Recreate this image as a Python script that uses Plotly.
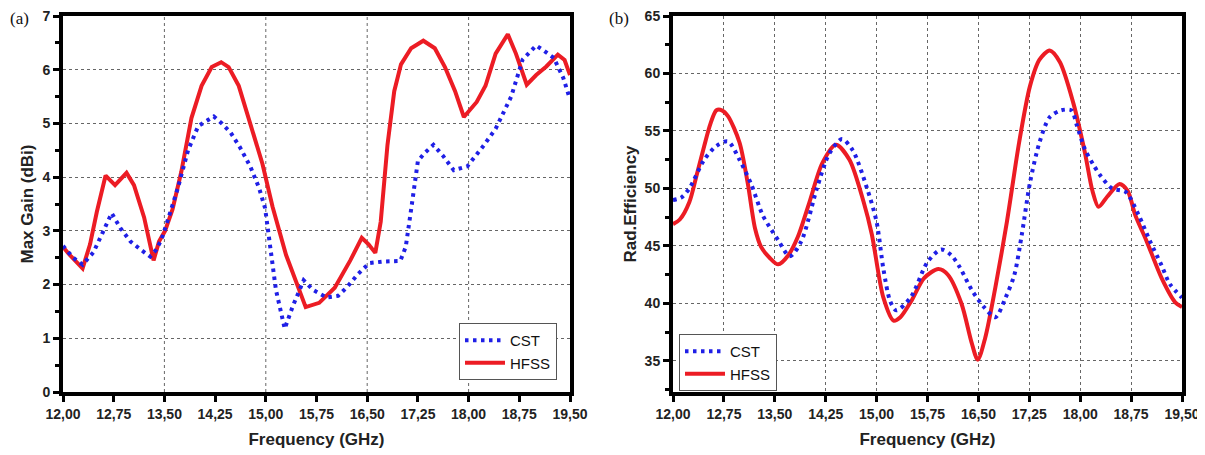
import plotly.graph_objects as go

# ---------------- data ----------------
# (a) Max Gain (dBi)
gain_cst_f = [12.00, 12.15, 12.29, 12.45, 12.58, 12.72, 12.85, 13.00, 13.15, 13.29, 13.38, 13.46,
              13.55, 13.70, 13.85, 14.00, 14.23, 14.35, 14.48, 14.62, 14.77, 14.90, 14.99, 15.06,
              15.15, 15.28, 15.40, 15.56, 15.70, 15.90, 16.07, 16.20, 16.36, 16.53, 16.75, 16.99,
              17.07, 17.15, 17.25, 17.35, 17.48, 17.62, 17.78, 17.98, 18.20, 18.40, 18.63, 18.80,
              19.00, 19.12, 19.26, 19.40, 19.50]
gain_cst = [2.72, 2.50, 2.37, 2.60, 2.95, 3.33, 3.05, 2.80, 2.65, 2.52, 2.65, 2.85,
            3.20, 3.80, 4.50, 4.95, 5.13, 5.00, 4.83, 4.55, 4.20, 3.80, 3.42, 2.80,
            1.90, 1.18, 1.60, 2.08, 1.90, 1.76, 1.79, 1.95, 2.19, 2.40, 2.43, 2.44,
            2.70, 3.40, 4.30, 4.45, 4.60, 4.40, 4.13, 4.20, 4.55, 4.90, 5.50, 6.19,
            6.45, 6.35, 6.22, 5.85, 5.45]

gain_hfss_f = [12.00, 12.10, 12.29, 12.40, 12.50, 12.63, 12.77, 12.94, 13.05, 13.20, 13.34, 13.42,
               13.51, 13.62, 13.75, 13.90, 14.05, 14.20, 14.34, 14.45, 14.60, 14.80, 14.95, 15.10,
               15.30, 15.59, 15.79, 16.02, 16.25, 16.42, 16.52, 16.62, 16.70, 16.80, 16.90, 17.00,
               17.15, 17.33, 17.50, 17.65, 17.80, 17.93, 18.05, 18.12, 18.25, 18.40, 18.58, 18.70,
               18.86, 19.00, 19.15, 19.32, 19.42, 19.50]
gain_hfss = [2.70, 2.55, 2.30, 2.75, 3.35, 4.03, 3.85, 4.08, 3.85, 3.25, 2.45, 2.80,
             3.00, 3.40, 4.10, 5.10, 5.70, 6.05, 6.14, 6.05, 5.70, 4.90, 4.25, 3.45,
             2.55, 1.58, 1.66, 1.94, 2.45, 2.87, 2.75, 2.59, 3.17, 4.60, 5.60, 6.10,
             6.40, 6.54, 6.40, 6.05, 5.60, 5.12, 5.30, 5.40, 5.70, 6.30, 6.66, 6.30,
             5.72, 5.90, 6.06, 6.28, 6.18, 5.90]

# (b) Radiation efficiency
eff_cst_f = [12.00, 12.12, 12.24, 12.46, 12.64, 12.81, 12.98, 13.15, 13.32, 13.45, 13.55, 13.72,
             13.89, 14.12, 14.30, 14.49, 14.65, 14.86, 15.00, 15.10, 15.20, 15.29, 15.50, 15.75,
             15.95, 16.10, 16.23, 16.40, 16.58, 16.75, 16.90, 17.03, 17.14, 17.26, 17.40, 17.55,
             17.72, 17.87, 17.95, 18.07, 18.20, 18.30, 18.47, 18.67, 18.86, 19.03, 19.20, 19.32,
             19.50]
eff_cst = [49.0, 49.2, 50.0, 52.5, 53.7, 54.1, 52.5, 50.4, 47.7, 46.4, 45.5, 44.1,
           45.4, 50.0, 53.0, 54.3, 53.3, 50.0, 47.1, 43.0, 40.2, 39.4, 40.5, 43.6,
           44.7, 44.2, 43.1, 41.2, 39.7, 38.8, 40.5, 42.5, 46.0, 50.5, 54.0, 56.2,
           56.8, 56.8, 55.5, 53.4, 52.0, 51.1, 50.0, 49.7, 47.7, 45.4, 43.3, 41.7,
           40.5]

eff_hfss_f = [12.00, 12.10, 12.24, 12.35, 12.46, 12.55, 12.64, 12.72, 12.81, 12.98, 13.10, 13.21,
              13.30, 13.42, 13.55, 13.70, 13.84, 14.01, 14.20, 14.40, 14.60, 14.81, 14.93, 15.10,
              15.25, 15.35, 15.51, 15.70, 15.91, 16.05, 16.25, 16.40, 16.49, 16.60, 16.75, 16.92,
              17.10, 17.26, 17.40, 17.55, 17.70, 17.90, 18.07, 18.18, 18.27, 18.40, 18.58, 18.70,
              18.81, 18.98, 19.20, 19.40, 19.50]
eff_hfss = [46.9, 47.3, 48.8, 51.2, 53.7, 55.6, 56.8, 56.8, 56.3, 54.0, 50.5, 46.5,
            44.9, 44.0, 43.4, 44.2, 45.8, 48.8, 52.2, 53.8, 52.5, 48.8, 46.0, 40.5,
            38.5, 38.8, 40.2, 42.2, 43.0, 42.5, 40.0, 36.6, 35.1, 37.0, 41.4, 47.1,
            54.0, 58.9, 61.2, 62.0, 61.0, 57.4, 53.1, 49.8, 48.4, 49.3, 50.4, 49.8,
            47.7, 45.4, 42.2, 40.1, 39.7]

freq_tickvals = [12.00, 12.75, 13.50, 14.25, 15.00, 15.75, 16.50, 17.25, 18.00, 18.75, 19.50]
freq_ticktext = ["12,00", "12,75", "13,50", "14,25", "15,00", "15,75", "16,50", "17,25",
                 "18,00", "18,75", "19,50"]
gain_grid_x = [13.50, 15.00, 16.50, 18.00]

# ---------------- style ----------------
RED = "#ec1c24"
BLUE = "#1f1fe6"
FONT = "Liberation Sans, Arial, sans-serif"
OFF = 8                      # page body margin
W, H = 1205 - OFF, 455 - OFF

def px_x(p):
    return (p - OFF) / W

def px_y(p):
    return 1 - (p - OFF) / H

fig = go.Figure()

fig.add_trace(go.Scatter(x=gain_hfss_f, y=gain_hfss, name="HFSS", mode="lines",
                         line=dict(color=RED, width=4), xaxis="x", yaxis="y",
                         legend="legend", legendrank=2))
fig.add_trace(go.Scatter(x=gain_cst_f, y=gain_cst, name="CST", mode="lines",
                         line=dict(color=BLUE, width=4, dash="3.5px,4.5px"), xaxis="x", yaxis="y",
                         legend="legend", legendrank=1))
fig.add_trace(go.Scatter(x=eff_hfss_f, y=eff_hfss, name="HFSS", mode="lines",
                         line=dict(color=RED, width=4, shape="spline", smoothing=0.8),
                         xaxis="x2", yaxis="y2", legend="legend2", legendrank=2))
fig.add_trace(go.Scatter(x=eff_cst_f, y=eff_cst, name="CST", mode="lines",
                         line=dict(color=BLUE, width=4, dash="3.5px,4.5px", shape="spline",
                                   smoothing=0.8),
                         xaxis="x2", yaxis="y2", legend="legend2", legendrank=1))

ydom = [px_y(392), px_y(16)]

common_axis = dict(showline=True, linewidth=4, linecolor="black", mirror=True,
                   ticks="outside", tickwidth=3, ticklen=6, tickcolor="black",
                   zeroline=False, automargin=False, ticklabeloverflow="allow",
                   tickfont=dict(family=FONT, size=14, color="#222", weight="bold"))

grid_style = dict(gridcolor="#666", griddash="dot", gridwidth=1)
title_font = dict(family=FONT, size=17, color="#222", weight="bold")

fig.update_layout(
    width=W, height=H,
    margin=dict(l=0, r=0, t=0, b=0),
    paper_bgcolor="white", plot_bgcolor="white",
    xaxis=dict(domain=[px_x(63), px_x(570)], range=[12, 19.5], anchor="y",
               tickmode="array", tickvals=freq_tickvals, ticktext=freq_ticktext,
               showgrid=False,
               title=dict(text="Frequency (GHz)", standoff=13, font=title_font),
               **common_axis),
    yaxis=dict(domain=ydom, range=[0, 7], anchor="x", dtick=1, showgrid=True, **grid_style,
               minor=dict(dtick=0.5, ticks="outside", ticklen=4, tickwidth=3, tickcolor="black",
                          showgrid=False),
               title=dict(text="Max Gain (dBi)", standoff=5, font=title_font),
               **common_axis),
    xaxis2=dict(domain=[px_x(673), px_x(1182)], range=[12, 19.5], anchor="y2",
                tickmode="array", tickvals=freq_tickvals, ticktext=freq_ticktext,
                showgrid=True, **grid_style,
                title=dict(text="Frequency (GHz)", standoff=13, font=title_font),
                **common_axis),
    yaxis2=dict(domain=ydom, range=[32.3, 65], anchor="x2", dtick=5, tick0=35,
                showgrid=True, **grid_style,
                minor=dict(dtick=2.5, tick0=35, ticks="outside", ticklen=4, tickwidth=3,
                           tickcolor="black", showgrid=False),
                title=dict(text="Rad.Efficiency", standoff=5, font=title_font),
                **common_axis),
    legend=dict(x=px_x(459), y=px_y(323), xanchor="left", yanchor="top",
                bgcolor="white", bordercolor="#555", borderwidth=1,
                font=dict(family=FONT, size=15, color="#111"),
                tracegroupgap=0, itemwidth=40),
    legend2=dict(x=px_x(679), y=px_y(334), xanchor="left", yanchor="top",
                 bgcolor="white", bordercolor="#555", borderwidth=1,
                 font=dict(family=FONT, size=15, color="#111"),
                 tracegroupgap=0, itemwidth=40),
    showlegend=True,
)

for gx in gain_grid_x:
    fig.add_shape(type="line", xref="x", yref="y domain", x0=gx, x1=gx, y0=0, y1=1,
                  line=dict(color="#666", width=1, dash="dot"), layer="below")

fig.add_annotation(text="(a)", x=px_x(8), y=px_y(18), xref="paper", yref="paper",
                   xanchor="left", yanchor="middle", showarrow=False,
                   font=dict(family="Liberation Serif, Times New Roman, serif", size=17,
                             color="#111"))
fig.add_annotation(text="(b)", x=px_x(607), y=px_y(18), xref="paper", yref="paper",
                   xanchor="left", yanchor="middle", showarrow=False,
                   font=dict(family="Liberation Serif, Times New Roman, serif", size=17,
                             color="#111"))

fig.write_html("out.html")
